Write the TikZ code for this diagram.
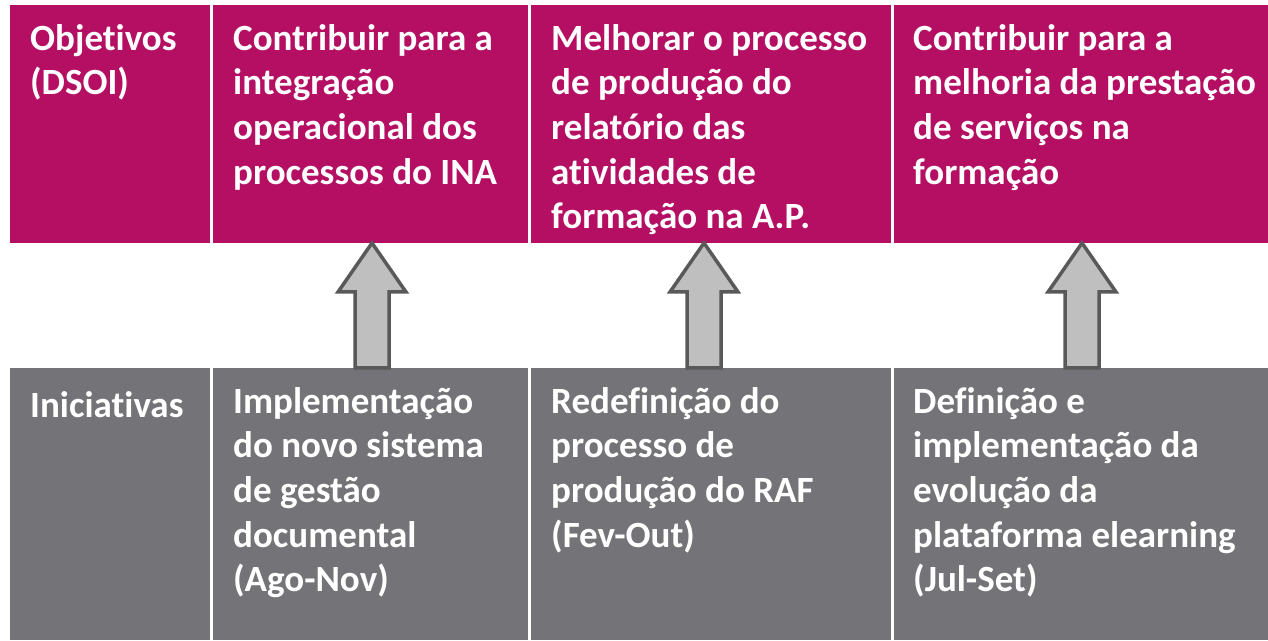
\documentclass[tikz,border=0pt]{standalone}
\usepackage{fontspec}
\setmainfont{Carlito}[RawFeature=-liga]
\usetikzlibrary{calc}
\definecolor{mag}{RGB}{180,15,98}
\definecolor{cellgray}{RGB}{116,116,120}
\definecolor{arrfill}{RGB}{191,191,191}
\definecolor{arrline}{RGB}{89,89,89}
\begin{document}
\begin{tikzpicture}[x=1pt,y=1pt,
  cell/.style={draw=none,inner sep=0pt,anchor=north west},
  topcell/.style={cell,fill=mag,minimum height=238pt},
  botcell/.style={cell,fill=cellgray,minimum height=272pt},
  txt/.style={anchor=north west,inner sep=0pt,align=left,text=white,
    font=\fontsize{37}{44.7}\selectfont\bfseries,
    execute at begin node=\rule{0pt}{30pt}},
  uparrow/.style={draw=arrline,fill=arrfill,line width=3.5pt,line join=miter}]
\useasboundingbox (0,0) rectangle (1268,640);
% top row
\node[topcell,minimum width=200pt] (o1) at (10,635) {};
\node[topcell,minimum width=315pt] (o2) at (213,635) {};
\node[topcell,minimum width=360pt] (o3) at (531,635) {};
\node[topcell,minimum width=374pt] (o4) at (894,635) {};
% bottom row
\node[botcell,minimum width=200pt] (i1) at (10,272) {};
\node[botcell,minimum width=315pt] (i2) at (213,272) {};
\node[botcell,minimum width=360pt] (i3) at (531,272) {};
\node[botcell,minimum width=374pt] (i4) at (894,272) {};
% texts
\node[txt] (to1) at (30,616) {Objetivos\\(DSOI)};
\node[txt] (to2) at (233,616) {Contribuir para a\\integração\\operacional dos\\processos do INA};
\node[txt] (to3) at (551,616) {Melhorar o processo\\de produção do\\relatório das\\atividades de\\formação na A.P.};
\node[txt] (to4) at (913,616) {Contribuir para a\\melhoria da prestação\\de serviços na\\formação};
\node[txt] (ti1) at (30,253) {Iniciativas};
\node[txt] (ti2) at (233,253) {Implementação\\do novo sistema\\de gestão\\documental\\(Ago-Nov)};
\node[txt] (ti3) at (551,253) {Redefinição do\\processo de\\produção do RAF\\(Fev-Out)};
\node[txt] (ti4) at (913,253) {Definição e\\implementação da\\evolução da\\plataforma elearning\\(Jul-Set)};
% arrows
\foreach \n/\cx in {2/372,3/704,4/1082}{
  \coordinate (a\n) at (\cx,272);
  \draw[uparrow] ($(a\n)+(-17,0)$) -- ++(0,76) -- ++(-17,0) -- ($(a\n)+(0,125)$)
    -- ($(a\n)+(34,76)$) -- ++(-17,0) -- ($(a\n)+(17,0)$) -- cycle;
}
\end{tikzpicture}
\end{document}
